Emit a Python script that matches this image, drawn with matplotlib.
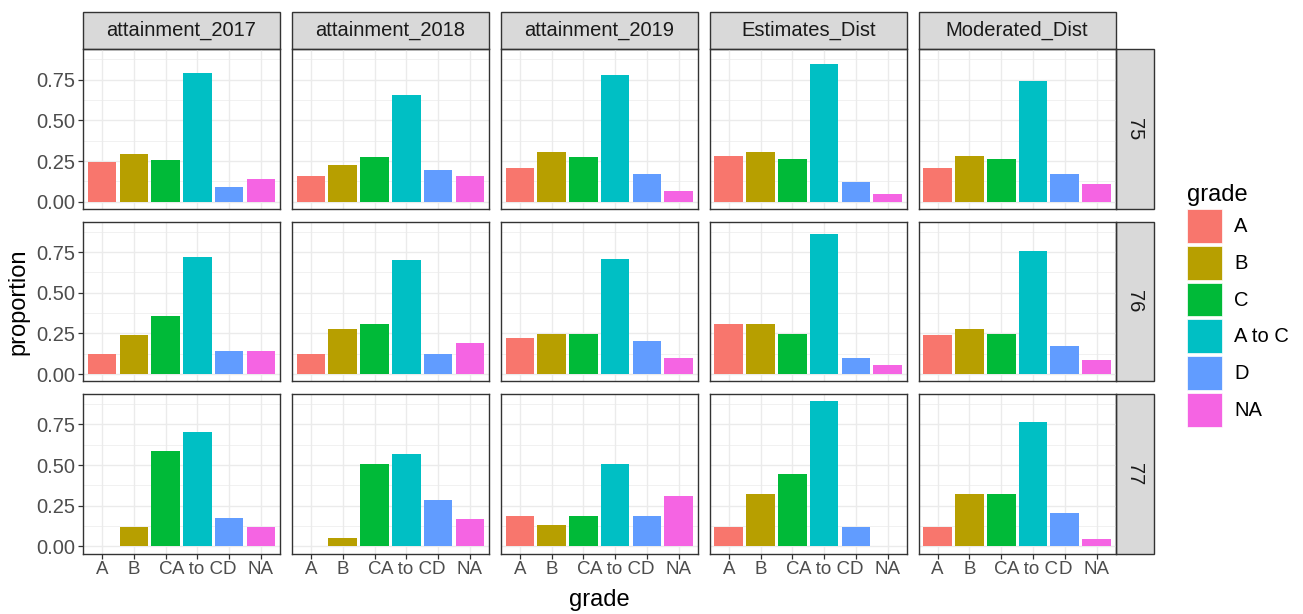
import numpy as np
import matplotlib
matplotlib.use('Agg')
import matplotlib.pyplot as plt
from matplotlib.patches import Rectangle, Patch

plt.rcParams['font.family'] = ['Liberation Sans', 'DejaVu Sans']

# ===== Data =====
grades = ['A', 'B', 'C', 'A to C', 'D', 'NA']
grade_colors = ['#F8766D', '#B79F00', '#00BA38', '#00BFC4', '#619CFF', '#F564E3']
facet_cols = ['attainment_2017', 'attainment_2018', 'attainment_2019', 'Estimates_Dist', 'Moderated_Dist']
facet_rows = ['75', '76', '77']

# one list per row (75, 76, 77), values in grade order
attainment_2017 = [[0.245, 0.293, 0.257, 0.790, 0.093, 0.142],
                   [0.124, 0.241, 0.354, 0.718, 0.142, 0.142],
                   [0.000, 0.118, 0.588, 0.706, 0.176, 0.118]]
attainment_2018 = [[0.160, 0.227, 0.275, 0.657, 0.196, 0.160],
                   [0.124, 0.279, 0.308, 0.700, 0.124, 0.191],
                   [0.000, 0.053, 0.508, 0.565, 0.283, 0.169]]
attainment_2019 = [[0.209, 0.303, 0.275, 0.782, 0.168, 0.063],
                   [0.221, 0.249, 0.249, 0.706, 0.201, 0.097],
                   [0.187, 0.130, 0.187, 0.508, 0.187, 0.312]]
estimates_dist = [[0.283, 0.303, 0.265, 0.849, 0.121, 0.045],
                  [0.305, 0.305, 0.249, 0.859, 0.097, 0.058],
                  [0.120, 0.322, 0.448, 0.893, 0.120, 0.000]]
moderated_dist = [[0.209, 0.283, 0.265, 0.744, 0.168, 0.112],
                  [0.241, 0.279, 0.249, 0.754, 0.173, 0.086],
                  [0.120, 0.322, 0.322, 0.767, 0.206, 0.043]]

all_data = [attainment_2017, attainment_2018, attainment_2019, estimates_dist, moderated_dist]

# ===== Layout (pixels) =====
W, H = 1303, 614
fig = plt.figure(figsize=(W / 100, H / 100), dpi=100)
fig.patch.set_facecolor('white')

left0, col_pitch, pw = 83, 208.9, 197
top0, row_pitch, ph = 49.3, 172.3, 159.7
strip_h, strip_w = 37, 38
small_fs, big_fs = 14.5, 17

ymax = max(max(max(r) for r in d) for d in all_data)
ylim = (-0.05 * ymax, 1.05 * ymax)
x = np.arange(1, len(grades) + 1)

border = '#333333'
for i, row in enumerate(facet_rows):
    for j, col in enumerate(facet_cols):
        l = left0 + j * col_pitch
        t = top0 + i * row_pitch
        ax = fig.add_axes([l / W, 1 - (t + ph) / H, pw / W, ph / H])
        ax.bar(x, all_data[j][i], width=0.9, color=grade_colors, zorder=3)
        ax.set_xlim(0.4, 6.6)
        ax.set_ylim(*ylim)
        ax.set_xticks(x)
        ax.set_yticks([0, 0.25, 0.5, 0.75])
        ax.set_yticks([0.125, 0.375, 0.625, 0.875], minor=True)
        ax.grid(True, which='major', color='#EBEBEB', lw=1.0, zorder=0)
        ax.grid(True, which='minor', axis='y', color='#EBEBEB', lw=0.5, zorder=0)
        ax.tick_params(which='minor', length=0)
        ax.tick_params(which='major', length=3.5, width=0.9, color=border,
                       labelsize=small_fs, labelcolor='#4D4D4D', pad=2)
        ax.tick_params(axis='x', labelsize=13.5)
        for s in ax.spines.values():
            s.set_color(border)
            s.set_linewidth(1.0)
        if j == 0:
            ax.set_yticklabels(['0.00', '0.25', '0.50', '0.75'])
        else:
            ax.tick_params(axis='y', length=0, labelleft=False)
        if i == len(facet_rows) - 1:
            ax.set_xticklabels(grades)
        else:
            ax.tick_params(axis='x', length=0, labelbottom=False)

        # top strips
        if i == 0:
            sh = strip_h / ph
            ax.add_patch(Rectangle((0, 1), 1, sh, transform=ax.transAxes, clip_on=False,
                                   facecolor='#D9D9D9', edgecolor=border, lw=1.0))
            ax.text(0.5, 1 + sh / 2, col, transform=ax.transAxes, ha='center', va='center',
                    fontsize=small_fs, color='#1A1A1A')
        # right strips
        if j == len(facet_cols) - 1:
            sw = strip_w / pw
            ax.add_patch(Rectangle((1, 0), sw, 1, transform=ax.transAxes, clip_on=False,
                                   facecolor='#D9D9D9', edgecolor=border, lw=1.0))
            ax.text(1 + sw / 2, 0.5, row, transform=ax.transAxes, ha='center', va='center',
                    rotation=270, fontsize=small_fs, color='#1A1A1A')

# axis titles
fig.text((left0 + (4 * col_pitch + pw) / 2) / W, 1 - 600 / H, 'grade', ha='center', va='center', fontsize=big_fs)
fig.text(18 / W, 1 - (top0 + (2 * row_pitch + ph) / 2) / H, 'proportion', ha='center', va='center',
         rotation=90, fontsize=big_fs)

# legend
handles = [Patch(facecolor=c, edgecolor='white', lw=0.5) for c in grade_colors]
leg = fig.legend(handles, grades, loc='upper left', bbox_to_anchor=(1187 / W, 1 - 184 / H),
                 frameon=False, fontsize=small_fs, title='grade', title_fontsize=big_fs,
                 handlelength=1.75, handleheight=2.2, labelspacing=0.15, handletextpad=0.6,
                 borderaxespad=0, borderpad=0, alignment='left')

fig.savefig('out.png', dpi=100)
